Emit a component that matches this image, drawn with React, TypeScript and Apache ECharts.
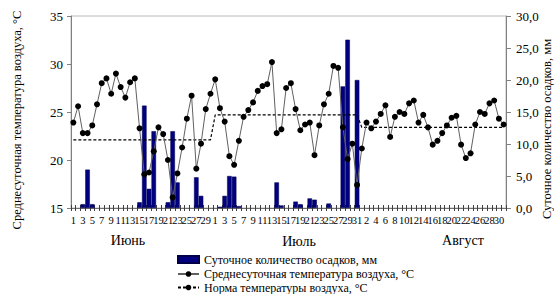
import React, { useEffect, useRef } from "react";
import * as echarts from "echarts";

const juneDays = ["1","2","3","4","5","6","7","8","9","10","11","12","13","14","15","16","17","18","19","20","21","22","23","24","25","26","27","28","29","30"];
const julyDays = ["1","2","3","4","5","6","7","8","9","10","11","12","13","14","15","16","17","18","19","20","21","22","23","24","25","26","27","28","29","30","31"];
const augustDays = ["1","2","3","4","5","6","7","8","9","10","11","12","13","14","15","16","17","18","19","20","21","22","23","24","25","26","27","28","29","30","31"];

const juneTemp = [23.9,25.6,22.8,22.8,23.6,25.8,28.0,28.5,26.9,29.0,27.6,26.5,28.1,28.5,23.3,18.5,18.7,20.9,23.4,22.7,20.0,16.1,18.6,21.3,24.3,26.7,19.1,21.7,25.3,26.9];
const julyTemp = [28.4,25.4,24.0,20.4,19.5,22.0,24.5,25.2,26.0,27.2,27.7,27.9,30.2,22.8,23.2,27.5,28.0,25.3,23.1,23.7,23.9,20.5,23.6,25.8,26.9,29.8,29.6,23.4,20.1,21.7,17.4];
const augustTemp = [21.2,23.9,23.3,24.0,24.8,25.7,22.4,24.5,25.0,24.8,25.9,26.2,23.9,24.7,23.4,21.6,22.0,22.8,23.6,24.4,24.6,21.6,20.2,20.7,23.7,25.0,24.8,25.9,26.2,24.3,23.7];

const junePrecip = [null,null,0.6,6.0,0.6,null,null,null,null,null,null,null,null,null,0.9,16.0,3.0,12.0,null,null,0.9,12.0,4.0,null,null,null,4.8,1.9,null,null];
const julyPrecip = [null,0.2,1.9,5.0,4.9,0.3,null,null,null,null,null,null,null,4.0,0.4,null,null,1.0,0.6,null,1.5,1.3,null,null,0.7,null,null,19.0,26.3,null,20.0];
const augustPrecip = [null,null,null,null,null,null,null,null,null,null,null,null,null,null,null,null,null,null,null,null,null,null,null,null,null,null,null,null,null,null,null];

const monthNorm = [22.1, 24.7, 23.4];
const monthNames = ["Июнь", "Июль", "Август"];

const leftTicks = { min: 15, max: 35, interval: 5 };
const rightTicks = { min: 0, max: 30, interval: 5 };

const nameBars = "Суточное количество осадков, мм";
const nameTemp = "Среднесуточная температура воздуха, °С";
const nameNorm = "Норма температуры воздуха, °С";
const leftAxisName = "Среднесуточная температура воздуха, °С";
const rightAxisName = "Суточное количество осадков, мм";

const FONT = "'Liberation Serif', 'Times New Roman', serif";

export default function App() {
  const ref = useRef<HTMLDivElement>(null);
  useEffect(() => {
    if (!ref.current) return;
    const chart = echarts.init(ref.current, undefined, { renderer: "svg" });
    const days = [...juneDays, ...julyDays, ...augustDays];
    const temps = [...juneTemp, ...julyTemp, ...augustTemp];
    const precip = [...junePrecip, ...julyPrecip, ...augustPrecip];
    const norm = [
      ...juneDays.map(() => monthNorm[0]),
      ...julyDays.map(() => monthNorm[1]),
      ...augustDays.map(() => monthNorm[2]),
    ];
    const monthPos = [
      [128, 240],
      [299, 241],
      [463, 240],
    ];
    const legendNames = [nameBars, nameTemp, nameNorm];
    const legendTops = [253, 267.5, 281];
    chart.setOption({
      animation: false,
      textStyle: { fontFamily: FONT },
      grid: {
        left: 71,
        right: 48,
        top: 16,
        bottom: 86,
        show: true,
        borderColor: "#b8b8b8",
        borderWidth: 1,
      },
      legend: legendNames.map((n, k) => ({
        orient: "horizontal",
        left: 177,
        top: legendTops[k],
        padding: 0,
        itemWidth: 21,
        itemHeight: 7,
        textStyle: { fontSize: 12, fontFamily: FONT, color: "#000", lineHeight: 13 },
        data: [k === 0 ? { name: n, icon: "rect" } : { name: n }],
      })),
      xAxis: [
        {
          type: "category",
          data: days,
          boundaryGap: true,
          position: "bottom",
          axisLine: { show: true, lineStyle: { color: "#707070", width: 1 } },
          axisTick: { show: true, interval: 0, length: 3, lineStyle: { color: "#404040" } },
          axisLabel: {
            interval: 0,
            formatter: (value: string, index: number) => (index % 2 === 0 ? value : ""),
            fontSize: 10.5,
            color: "#000",
            margin: 7,
            fontFamily: FONT,
            showMinLabel: true,
            showMaxLabel: false,
            hideOverlap: false,
          },
          splitLine: { show: false },
        },
        {
          type: "category",
          data: days,
          boundaryGap: true,
          position: "bottom",
          offset: 0,
          axisLine: { show: false },
          axisTick: { show: true, inside: true, interval: 0, length: 3, lineStyle: { color: "#404040" } },
          axisLabel: { show: false },
          splitLine: { show: false },
        },
      ],
      yAxis: [
        {
          type: "value",
          position: "left",
          ...leftTicks,
          axisLine: { show: true, lineStyle: { color: "#808080" } },
          axisTick: { show: true, length: 4, lineStyle: { color: "#808080" } },
          axisLabel: { fontSize: 13, color: "#000", margin: 8, fontFamily: FONT },
          splitLine: { show: false },
        },
        {
          type: "value",
          position: "right",
          ...rightTicks,
          axisLine: { show: true, lineStyle: { color: "#808080" } },
          axisTick: { show: true, length: 5, lineStyle: { color: "#808080" } },
          axisLabel: {
            fontSize: 13,
            color: "#000",
            margin: 10,
            fontFamily: FONT,
            formatter: (v: number) => v.toFixed(1).replace(".", ","),
          },
          splitLine: { show: false },
        },
      ],
      series: [
        {
          name: nameBars,
          type: "bar",
          xAxisIndex: 0,
          yAxisIndex: 1,
          data: precip,
          barCategoryGap: "4%",
          itemStyle: { color: "#000080", borderColor: "#00004a", borderWidth: 0.5 },
          z: 1,
        },
        {
          name: nameTemp,
          type: "line",
          xAxisIndex: 0,
          yAxisIndex: 0,
          data: temps,
          symbol: "circle",
          symbolSize: 6,
          showAllSymbol: true,
          lineStyle: { color: "#606060", width: 1 },
          itemStyle: { color: "#000" },
          z: 3,
        },
        {
          name: nameNorm,
          type: "line",
          xAxisIndex: 0,
          yAxisIndex: 0,
          data: norm,
          symbol: "none",
          lineStyle: { color: "#000", width: 1.2, type: [3, 2] },
          itemStyle: { color: "#000" },
          z: 2,
        },
      ],
      graphic: [
        {
          type: "text",
          x: 17,
          y: 120,
          rotation: Math.PI / 2,
          style: {
            text: leftAxisName,
            font: `12.5px ${FONT}`,
            fill: "#000",
            align: "center",
            verticalAlign: "middle",
            textAlign: "center",
            textVerticalAlign: "middle",
          },
        },
        {
          type: "text",
          x: 547,
          y: 129,
          rotation: Math.PI / 2,
          style: {
            text: rightAxisName,
            font: `12.5px ${FONT}`,
            fill: "#000",
            align: "center",
            verticalAlign: "middle",
            textAlign: "center",
            textVerticalAlign: "middle",
          },
        },
        ...monthNames.map((m, k) => ({
          type: "text",
          x: monthPos[k][0],
          y: monthPos[k][1],
          style: {
            text: m,
            font: `14px ${FONT}`,
            fill: "#000",
            align: "center",
            verticalAlign: "middle",
            textAlign: "center",
            textVerticalAlign: "middle",
          },
        })),
      ],
    });
    return () => chart.dispose();
  }, []);
  return (
    <div
      ref={ref}
      style={{ position: "absolute", left: 0, top: 0, width: 554, height: 294 }}
    />
  );
}
